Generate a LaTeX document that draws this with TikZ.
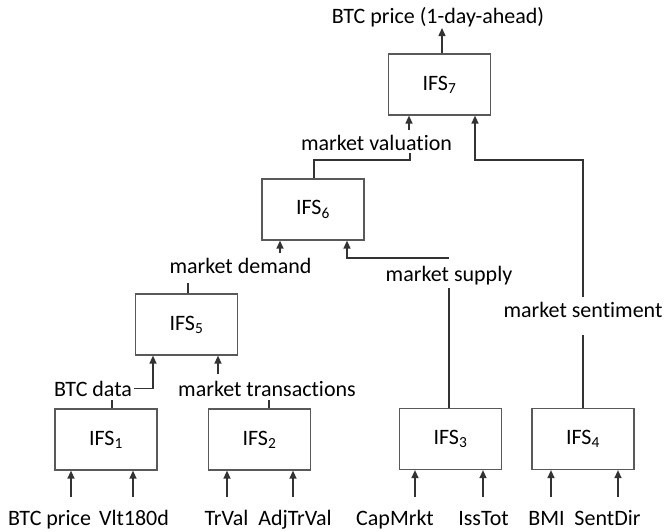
\documentclass[tikz,border=0pt]{standalone}
\usepackage{fontspec}
\setmainfont{Carlito}[Ligatures={NoCommon}]
\usetikzlibrary{arrows.meta}
\begin{document}
\begin{tikzpicture}[x=1pt,y=-1pt,
  box/.style={draw=black!65,line width=1.2pt,minimum width=102pt,minimum height=61pt,inner sep=0pt,font=\fontsize{22}{26}\selectfont},
  lbl/.style={inner sep=0pt,anchor=base,font=\fontsize{22}{26}\selectfont},
  wire/.style={draw=black!80,line width=1.3pt},
  arr/.style={wire,-{Triangle[length=8pt,width=7pt]}}]
\useasboundingbox (0,0) rectangle (665,531);
% boxes
\node[box] (f1) at (106,439.5) {IFS\textsubscript{1}};
\node[box] (f2) at (259.5,439.5) {IFS\textsubscript{2}};
\node[box] (f3) at (450.5,439) {IFS\textsubscript{3}};
\node[box] (f4) at (583,439) {IFS\textsubscript{4}};
\node[box] (f5) at (186.5,324.5) {IFS\textsubscript{5}};
\node[box] (f6) at (313,209.5) {IFS\textsubscript{6}};
\node[box] (f7) at (439.5,84.5) {IFS\textsubscript{7}};
% labels
\node[lbl] (out) at (438,23) {BTC price (1-day-ahead)};
\node[lbl] (mv) at (376.5,150) {market valuation};
\node[lbl] (md) at (240.5,273) {market demand};
\node[lbl] (ms) at (449,281) {market supply};
\node[lbl] (msent) at (583,317) {market sentiment};
\node[lbl] (btcd) at (93,396) {BTC data};
\node[lbl] (mt) at (267,396) {market transactions};
\node[lbl] (i1) at (49.5,525.5) {BTC price};
\node[lbl] (i2) at (134,525.5) {Vlt180d};
\node[lbl] (i3) at (226.5,525.5) {TrVal};
\node[lbl] (i4) at (295,525.5) {AdjTrVal};
\node[lbl] (i5) at (395,525.5) {CapMrkt};
\node[lbl] (i6) at (483.5,525.5) {IssTot};
\node[lbl] (i7) at (546.5,525.5) {BMI};
\node[lbl] (i8) at (607.5,525.5) {SentDir};
% input arrow tails
\coordinate (a1) at (71,497);
\coordinate (a2) at (133,497);
\coordinate (a3) at (227,497);
\coordinate (a4) at (293,497);
\coordinate (a5) at (415,497);
\coordinate (a6) at (483,497);
\coordinate (a7) at (551,497);
\coordinate (a8) at (618,497);
\draw[arr] (a1) -- (a1 |- f1.south);
\draw[arr] (a2) -- (a2 |- f1.south);
\draw[arr] (a3) -- (a3 |- f2.south);
\draw[arr] (a4) -- (a4 |- f2.south);
\draw[arr] (a5) -- (a5 |- f3.south);
\draw[arr] (a6) -- (a6 |- f3.south);
\draw[arr] (a7) -- (a7 |- f4.south);
\draw[arr] (a8) -- (a8 |- f4.south);
% level 1 -> IFS5
\coordinate (t1) at (112,400);
\coordinate (t2) at (269,400);
\draw[wire] (t1 |- f1.north) -- (t1);
\draw[wire] (t2 |- f2.north) -- (t2);
\draw[arr] ([xshift=2pt]btcd.east) -| ([xshift=-33.5pt]f5.south);
\coordinate (m5) at (218,374);
\draw[arr] (m5) -- (m5 |- f5.south);
% IFS5 -> IFS6
\coordinate (t5) at (188,283);
\draw[wire] (t5 |- f5.north) -- (t5);
\coordinate (m6) at (280,253);
\draw[arr] (m6) -- (m6 |- f6.south);
\coordinate (s3) at (449,288);
\draw[wire] (s3 |- f3.north) -- (s3);
\coordinate (s6) at (449,258);
\draw[arr] (s6) -| ([xshift=34pt]f6.south);
% IFS6 -> IFS7
\coordinate (v6) at (410,153);
\draw[wire] ([xshift=1pt]f6.north) |- (410,160) -- (v6);
\coordinate (v7) at (409,130);
\draw[arr] (v7) -- (v7 |- f7.south);
% IFS4 -> IFS7
\coordinate (e4) at (583,335);
\draw[wire] (f4.north) -- (e4);
\coordinate (e7) at (583,297);
\draw[arr] (e7) |- (475,160) -- ([xshift=35.5pt]f7.south);
% output
\coordinate (o7) at (442,28);
\draw[arr] (o7 |- f7.north) -- (o7);
\end{tikzpicture}
\end{document}
